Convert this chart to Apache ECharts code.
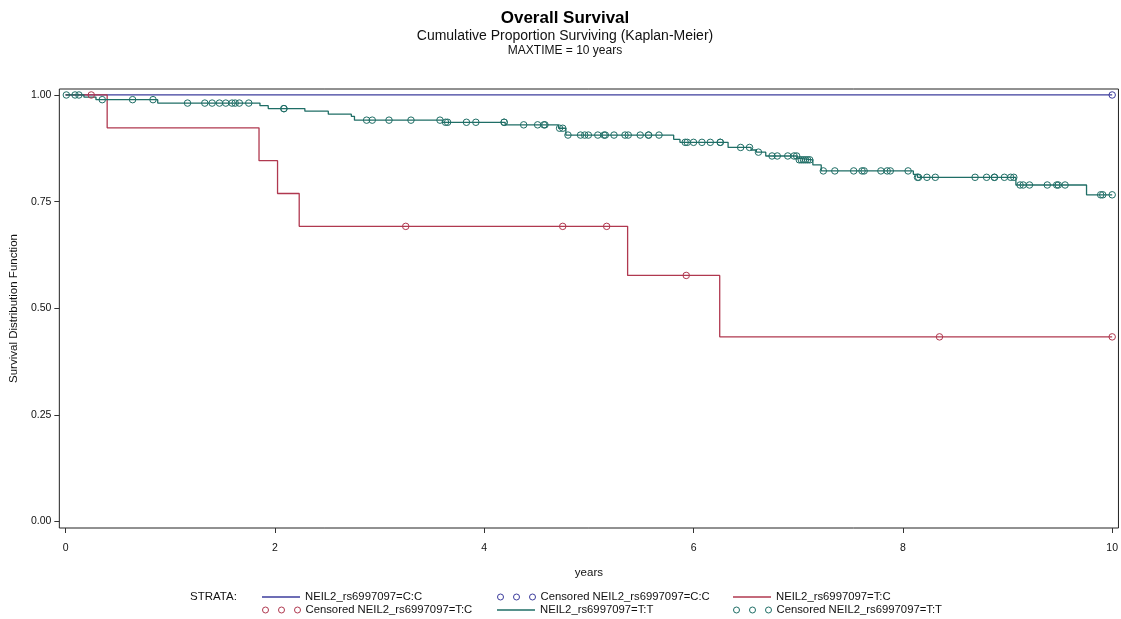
<!DOCTYPE html>
<html>
<head>
<meta charset="utf-8">
<script src="https://cdn.jsdelivr.net/npm/echarts@6/dist/echarts.min.js"></script>
<style>
html,body{margin:0;padding:0;background:#fff;}
#chart{width:1121px;height:619px;}
</style>
</head>
<body>
<div id="chart"></div>
<script>
// ---- Data ----
const xTicks = [0, 2, 4, 6, 8, 10];
const yTicks = [0, 0.25, 0.5, 0.75, 1];

// Stratum C:C
const ccStepTimes = [0, 10];
const ccStepSurv  = [1.0, 1.0];
const ccCensorTimes = [10];

// Stratum T:C
const tcStepTimes = [0, 0.397, 1.848, 2.025, 2.232, 5.37, 6.25, 10];
const tcStepSurv  = [1.0, 0.923, 0.846, 0.769, 0.692, 0.577, 0.433, 0.433];
const tcCensorTimes = [0.245, 3.25, 4.75, 5.17, 5.93, 8.35, 10];

// Stratum T:T
const ttStepTimes = [0, 0.175, 0.29, 0.88, 1.857, 1.936, 2.286, 2.51, 2.73, 2.76, 3.60, 4.20, 4.71, 4.78,
  5.81, 5.87, 6.33, 6.55, 6.60, 6.69, 6.99, 7.00, 7.14, 7.22, 8.10, 8.14, 9.08, 9.755, 10];
const ttStepSurv  = [1.0, 0.995, 0.989, 0.981, 0.975, 0.968, 0.962, 0.955, 0.950, 0.941, 0.936, 0.930, 0.922, 0.906,
  0.896, 0.889, 0.877, 0.871, 0.866, 0.857, 0.852, 0.848, 0.836, 0.822, 0.814, 0.807, 0.789, 0.766, 0.766];
const ttCensorTimes = [0.007, 0.09, 0.127, 0.35, 0.64, 0.835,
  1.165, 1.33, 1.40, 1.47, 1.53, 1.59, 1.62, 1.66, 1.75, 2.086, 2.086,
  2.876, 2.93, 3.09, 3.30, 3.577, 3.63, 3.65, 3.83, 3.92, 4.19, 4.19,
  4.377, 4.51, 4.57, 4.58, 4.72, 4.75,
  4.80, 4.92, 4.96, 4.995, 5.085, 5.145, 5.157, 5.24, 5.345, 5.376, 5.49, 5.57, 5.57, 5.67,
  5.92, 5.94, 6.00, 6.08, 6.16, 6.255, 6.255, 6.45, 6.535, 6.62,
  6.75, 6.80, 6.90, 6.96, 6.985, 7.01, 7.03, 7.05, 7.07, 7.09, 7.11,
  7.24, 7.35, 7.53, 7.61, 7.63, 7.79, 7.85, 7.88, 8.05,
  8.14, 8.15, 8.23, 8.31, 8.69, 8.80, 8.875, 8.875, 8.97, 9.03, 9.06,
  9.12, 9.15, 9.21, 9.38, 9.47, 9.485, 9.55, 9.89, 9.91, 10.0];

const seriesNames = ['NEIL2_rs6997097=C:C', 'Censored NEIL2_rs6997097=C:C', 'NEIL2_rs6997097=T:C',
  'Censored NEIL2_rs6997097=T:C', 'NEIL2_rs6997097=T:T', 'Censored NEIL2_rs6997097=T:T'];

// ---- Helpers ----
const colBlue = '#3c3c9c', colRed = '#b0384f', colTeal = '#1f6e66';
function pairs(ts, ss) { return ts.map((t, i) => [t, ss[i]]); }
function survAt(ts, ss, t) { let s = ss[0]; for (let i = 0; i < ts.length; i++) { if (ts[i] <= t) s = ss[i]; } return s; }
function censorPts(ct, ts, ss) { return ct.map(t => [t, survAt(ts, ss, t)]); }

const font = 'Arial, "Liberation Sans", sans-serif';
const chart = echarts.init(document.getElementById('chart'), null, { renderer: 'canvas' });

function lineSeries(name, data, color) {
  return { name, type: 'line', step: 'end', data, symbol: 'none', showSymbol: false,
    lineStyle: { color, width: 1.3 }, itemStyle: { color }, z: 2, silent: true };
}
function censSeries(name, data, color) {
  return { name, type: 'scatter', data, symbol: 'circle', symbolSize: 6.5,
    itemStyle: { color: 'rgba(255,255,255,0)', borderColor: color, borderWidth: 1, opacity: 1 }, z: 3, silent: true };
}
const circlesIcon = 'path://M0,3a3,3 0 1,0 6,0a3,3 0 1,0 -6,0M16,3a3,3 0 1,0 6,0a3,3 0 1,0 -6,0M32,3a3,3 0 1,0 6,0a3,3 0 1,0 -6,0';
const legendText = { fontFamily: font, fontSize: 11.3, color: '#111', lineHeight: 12 };
function legend(left, top, name, color, isCens) {
  const item = isCens
    ? { name, icon: circlesIcon, itemStyle: { color: 'rgba(255,255,255,0)', borderColor: color, borderWidth: 1 } }
    : { name, icon: 'rect', itemStyle: { color, borderWidth: 0 } };
  return { orient: 'horizontal', left, top, padding: 0, itemWidth: 38, itemHeight: isCens ? 6 : 1.3,
    selectedMode: false, data: [item], textStyle: legendText };
}

const option = {
  animation: false,
  backgroundColor: '#fff',
  title: [
    { text: 'Overall Survival', left: 565, textAlign: 'center', top: 10, padding: 0,
      textStyle: { fontFamily: font, fontSize: 17, fontWeight: 'bold', color: '#000' } },
    { text: 'Cumulative Proportion Surviving (Kaplan-Meier)', left: 565, textAlign: 'center', top: 29, padding: 0,
      textStyle: { fontFamily: font, fontSize: 14, fontWeight: 'normal', color: '#111' } },
    { text: 'MAXTIME = 10 years', left: 565, textAlign: 'center', top: 45, padding: 0,
      textStyle: { fontFamily: font, fontSize: 12, fontWeight: 'normal', color: '#111' } },
    { text: 'STRATA:', left: 190, top: 591, padding: 0,
      textStyle: { fontFamily: font, fontSize: 11.5, fontWeight: 'normal', color: '#111' } }
  ],
  legend: [
    legend(262, 591, seriesNames[0], colBlue, false),
    legend(262, 604, seriesNames[3], colRed, true),
    legend(497, 591, seriesNames[1], colBlue, true),
    legend(497, 604, seriesNames[4], colTeal, false),
    legend(733, 591, seriesNames[2], colRed, false),
    legend(733, 604, seriesNames[5], colTeal, true)
  ],
  grid: { left: 57, right: 1, top: 89, bottom: 91, show: true, borderColor: '#222', borderWidth: 1, backgroundColor: 'transparent' },
  xAxis: {
    type: 'value', min: -0.06, max: 10.06, position: 'bottom',
    name: 'years', nameLocation: 'middle', nameGap: 39,
    nameTextStyle: { fontFamily: font, fontSize: 11.5, color: '#111' },
    axisLine: { show: false, onZero: false },
    axisTick: { show: true, length: 5, inside: false, customValues: xTicks, lineStyle: { color: '#333' } },
    axisLabel: { customValues: xTicks, fontFamily: font, fontSize: 10.5, color: '#111', margin: 15, formatter: v => String(v) },
    splitLine: { show: false }
  },
  yAxis: {
    type: 'value', min: -0.015, max: 1.014, position: 'left',
    name: 'Survival Distribution Function', nameLocation: 'middle', nameGap: 36, nameRotate: 90,
    nameTextStyle: { fontFamily: font, fontSize: 11.5, color: '#111' },
    axisLine: { show: false, onZero: false },
    axisTick: { show: true, length: 5, inside: false, customValues: yTicks, lineStyle: { color: '#333' } },
    axisLabel: { customValues: yTicks, fontFamily: font, fontSize: 10.5, color: '#111', margin: 8, formatter: v => v.toFixed(2) },
    splitLine: { show: false }
  },
  series: [
    lineSeries(seriesNames[0], pairs(ccStepTimes, ccStepSurv), colBlue),
    lineSeries(seriesNames[2], pairs(tcStepTimes, tcStepSurv), colRed),
    lineSeries(seriesNames[4], pairs(ttStepTimes, ttStepSurv), colTeal),
    censSeries(seriesNames[1], censorPts(ccCensorTimes, ccStepTimes, ccStepSurv), colBlue),
    censSeries(seriesNames[3], censorPts(tcCensorTimes, tcStepTimes, tcStepSurv), colRed),
    censSeries(seriesNames[5], censorPts(ttCensorTimes, ttStepTimes, ttStepSurv), colTeal)
  ]
};
chart.setOption(option);
</script>
</body>
</html>
